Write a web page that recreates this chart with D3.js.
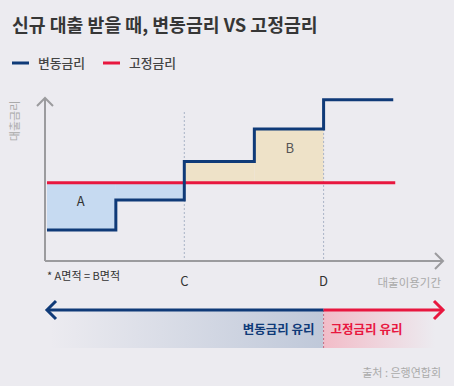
<!DOCTYPE html>
<html>
<head>
<meta charset="utf-8">
<script src="https://cdn.jsdelivr.net/npm/d3@7"></script>
<style>
  body { margin: 0; background: #ecebf0; }
  svg { display: block; font-family: "Noto Sans CJK KR", "Noto Sans", sans-serif; }
</style>
</head>
<body>
<div id="chart"></div>
<script>
// step positions along loan period (0-100) and floating rate levels (0-100)
const stepX = [0.5, 17.8, 35, 52.6, 70, 87.5];
const floatRate = [19, 37.5, 61, 81, 99];
const fixedRate = 48;
const fixedEnd = 88;
const markers = [{ label: "C", x: 35 }, { label: "D", x: 70 }];
const seriesNames = ["변동금리", "고정금리"];
const favorLabels = ["변동금리 유리", "고정금리 유리"];

const width = 454, height = 386;
const blue = "#0f3a78", red = "#e8173f", axisGray = "#9b9b9e";

const svg = d3.select("#chart").append("svg")
  .attr("width", width).attr("height", height);

const x = d3.scaleLinear().domain([0, 100]).range([45, 443]);
const y = d3.scaleLinear().domain([0, 100]).range([261, 98]);

// title
svg.append("text").attr("x", 12).attr("y", 32)
  .style("font-size", "18.3px").style("font-weight", 700).style("fill", "#363636")
  .text("신규 대출 받을 때, 변동금리 VS 고정금리");

// legend
const leg = svg.append("g");
[[12, blue], [103, red]].forEach(([lx, c], i) => {
  leg.append("line").attr("x1", lx).attr("x2", lx + 17).attr("y1", 63).attr("y2", 63)
    .attr("stroke", c).attr("stroke-width", 3);
  leg.append("text").attr("x", lx + 26).attr("y", 67.5)
    .style("font-size", "12.8px").style("font-weight", 500).style("fill", "#444").text(seriesNames[i]);
});

// fill areas between the floating steps and the fixed line
const segs = floatRate.map((v, i) => ({ x0: stepX[i], x1: stepX[i + 1], v }));
segs.forEach(s => {
  if (s.x1 > 70) return;
  const below = s.v < fixedRate;
  svg.append("rect")
    .attr("x", x(s.x0)).attr("width", x(s.x1) - x(s.x0))
    .attr("y", y(Math.max(s.v, fixedRate)))
    .attr("height", Math.abs(y(s.v) - y(fixedRate)))
    .attr("fill", below ? "#c6daf1" : "#eee2c8");
});

svg.append("text").attr("x", x(9)).attr("y", y(34)).attr("text-anchor", "middle")
  .style("font-size", "13px").style("fill", "#333").text("A");
svg.append("text").attr("x", x(61.5)).attr("y", y(66)).attr("text-anchor", "middle")
  .style("font-size", "13px").style("fill", "#555").text("B");

// dashed markers
svg.append("line").attr("x1", x(35)).attr("x2", x(35)).attr("y1", 112).attr("y2", y(0))
  .attr("stroke", "#a9b3c6").attr("stroke-dasharray", "2,2");
svg.append("line").attr("x1", x(70)).attr("x2", x(70)).attr("y1", y(81)).attr("y2", y(0))
  .attr("stroke", "#a9b3c6").attr("stroke-dasharray", "2,2");

// axes
const axes = svg.append("g").attr("stroke", axisGray).attr("stroke-width", 2).attr("fill", "none");
axes.append("path").attr("d", `M${x(0)},${y(0)} V${y(100)+1}`);
axes.append("path").attr("d", `M${x(0) - 8},${y(100) + 8} L${x(0)},${y(100)} L${x(0) + 8},${y(100) + 8}`);
axes.append("path").attr("d", `M${x(0)},${y(0)} H${x(100)-1}`);
axes.append("path").attr("d", `M${x(100) - 8},${y(0) - 8} L${x(100)},${y(0)} L${x(100) - 8},${y(0) + 8}`);

svg.append("text").attr("transform", `translate(19,${121}) rotate(-90)`)
  .attr("text-anchor", "middle").style("font-size", "11px").style("fill", "#aaa")
  .text("대출금리");

// fixed rate line
svg.append("line").attr("x1", x(0.5)).attr("x2", x(fixedEnd))
  .attr("y1", y(fixedRate)).attr("y2", y(fixedRate))
  .attr("stroke", red).attr("stroke-width", 3);

// floating rate step line
const pts = [];
floatRate.forEach((v, i) => { pts.push([stepX[i], v]); pts.push([stepX[i + 1], v]); });
svg.append("path")
  .attr("d", d3.line().x(d => x(d[0])).y(d => y(d[1]))(pts))
  .attr("fill", "none").attr("stroke", blue).attr("stroke-width", 3);

// x labels
markers.forEach(m => {
  svg.append("text").attr("x", x(m.x)).attr("y", 286).attr("text-anchor", "middle")
    .style("font-size", "13px").style("fill", "#333").text(m.label);
});
svg.append("text").attr("x", 441).attr("y", 287).attr("text-anchor", "end")
  .style("font-size", "11.5px").style("fill", "#aaa").text("대출이용기간");
svg.append("text").attr("x", 47).attr("y", 280)
  .style("font-size", "11px").style("fill", "#333").text("* A면적 = B면적");

// favor bar
const defs = svg.append("defs");
const gb = defs.append("linearGradient").attr("id", "gb");
gb.append("stop").attr("offset", "0%").attr("stop-color", "#c0c9da").attr("stop-opacity", 0);
gb.append("stop").attr("offset", "100%").attr("stop-color", "#bfc8d9").attr("stop-opacity", 1);
const gr = defs.append("linearGradient").attr("id", "gr");
gr.append("stop").attr("offset", "0%").attr("stop-color", "#f2bcc8").attr("stop-opacity", 1);
gr.append("stop").attr("offset", "100%").attr("stop-color", "#f2bcc8").attr("stop-opacity", 0);

const by = 310;
svg.append("rect").attr("x", 50).attr("y", by).attr("width", x(70) - 50).attr("height", 38).attr("fill", "url(#gb)");
svg.append("rect").attr("x", x(70)).attr("y", by).attr("width", 435 - x(70)).attr("height", 38).attr("fill", "url(#gr)");
svg.append("line").attr("x1", x(70)).attr("x2", x(70)).attr("y1", by).attr("y2", by + 38)
  .attr("stroke", "#c66a80").attr("stroke-dasharray", "2,2");

svg.append("line").attr("x1", x(0.5)).attr("x2", x(70)).attr("y1", by).attr("y2", by)
  .attr("stroke", blue).attr("stroke-width", 3);
svg.append("line").attr("x1", x(70)).attr("x2", x(100) - 1).attr("y1", by).attr("y2", by)
  .attr("stroke", red).attr("stroke-width", 3);
svg.append("path").attr("d", `M${x(0.5) + 9},${by - 9} L${x(0.5)},${by} L${x(0.5) + 9},${by + 9}`)
  .attr("fill", "none").attr("stroke", blue).attr("stroke-width", 3);
svg.append("path").attr("d", `M${x(100) - 9},${by - 9} L${x(100)},${by} L${x(100) - 9},${by + 9}`)
  .attr("fill", "none").attr("stroke", red).attr("stroke-width", 3);

svg.append("text").attr("x", x(70) - 9).attr("y", 334).attr("text-anchor", "end")
  .style("font-size", "12.5px").style("font-weight", 700).style("fill", blue).text(favorLabels[0]);
svg.append("text").attr("x", x(70) + 7).attr("y", 334)
  .style("font-size", "12.5px").style("font-weight", 700).style("fill", red).text(favorLabels[1]);

svg.append("text").attr("x", 441).attr("y", 377).attr("text-anchor", "end")
  .style("font-size", "11px").style("fill", "#aaa").text("출처 : 은행연합회");
</script>
</body>
</html>
